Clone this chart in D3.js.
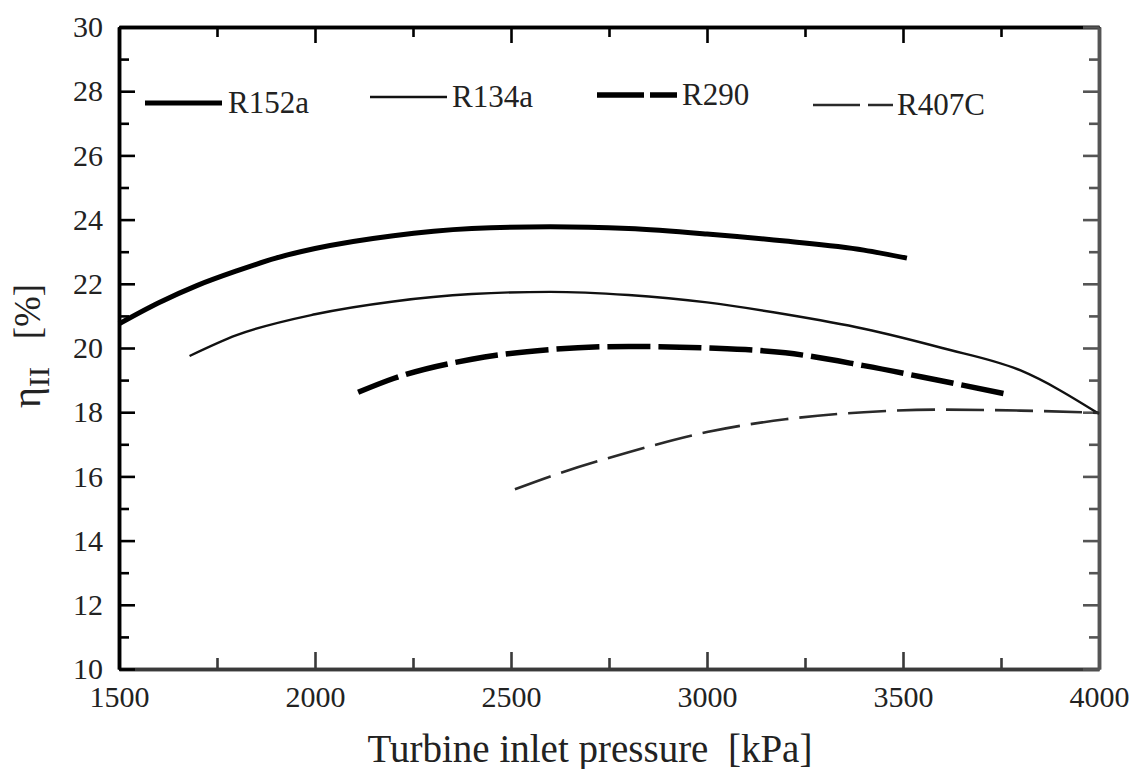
<!DOCTYPE html>
<html>
<head>
<meta charset="utf-8">
<script src="https://cdn.jsdelivr.net/npm/d3@7"></script>
<style>
  html, body { margin: 0; padding: 0; background: #fff; }
  svg { display: block; }
  svg text { font-family: "Liberation Serif", "Times New Roman", Times, serif !important; }
</style>
</head>
<body>
<svg id="chart" width="1134" height="769"></svg>
<script>
// Second-law efficiency vs turbine inlet pressure for four working fluids
const seriesNames = ["R152a", "R134a", "R290", "R407C"];

const pressureR152a = [1500, 1600, 1700, 1800, 1900, 2000, 2200, 2400, 2600, 2800, 3000, 3200, 3400, 3510];
const etaR152a      = [20.75, 21.4, 21.95, 22.4, 22.8, 23.1, 23.5, 23.72, 23.78, 23.72, 23.55, 23.33, 23.05, 22.8];

const pressureR134a = [1680, 1800, 2000, 2200, 2400, 2600, 2800, 3000, 3200, 3400, 3600, 3800, 4000];
const etaR134a      = [19.75, 20.4, 21.05, 21.45, 21.68, 21.75, 21.65, 21.42, 21.05, 20.6, 20.0, 19.3, 17.95];

const pressureR290  = [2110, 2200, 2400, 2600, 2800, 3000, 3200, 3400, 3600, 3770];
const etaR290       = [18.62, 19.05, 19.65, 19.95, 20.05, 20.0, 19.85, 19.45, 18.97, 18.55];

const pressureR407C = [2510, 2600, 2800, 3000, 3200, 3400, 3600, 3800, 4000];
const etaR407C      = [15.6, 16.0, 16.75, 17.38, 17.78, 18.0, 18.08, 18.05, 17.98];

const xMajorTicks = [1500, 2000, 2500, 3000, 3500, 4000];
const xMinorTicks = [1750, 2250, 2750, 3250, 3750];
const yMajorTicks = [10, 12, 14, 16, 18, 20, 22, 24, 26, 28, 30];
const yMinorTicks = [11, 13, 15, 17, 19, 21, 23, 25, 27, 29];

const xTitle = "Turbine inlet pressure  [kPa]";

// ---- layout ----
const plotLeft = 119, plotRight = 1099, plotTop = 27, plotBottom = 669;
const serif = "'Liberation Serif', 'Times New Roman', Times, serif";
const svg = d3.select("#chart");

const x = d3.scaleLinear().domain([1500, 4000]).range([plotLeft, plotRight]);
const y = d3.scaleLinear().domain([10, 30]).range([plotBottom, plotTop]);

// line styles per fluid
const styles = {
  "R152a": { color: "#000", width: 5,   dash: null },
  "R134a": { color: "#111", width: 2.4, dash: null },
  "R290":  { color: "#000", width: 5.5, dash: "43,8" },
  "R407C": { color: "#2a2a2a", width: 2.6, dash: "38,11" }
};

const series = [
  { name: "R152a", p: pressureR152a, eta: etaR152a },
  { name: "R134a", p: pressureR134a, eta: etaR134a },
  { name: "R290",  p: pressureR290,  eta: etaR290 },
  { name: "R407C", p: pressureR407C, eta: etaR407C }
];

// ---- axes ----
function styleAxis(g, color) {
  g.attr("font-family", null);
  g.select(".domain").attr("stroke", color).attr("stroke-width", 3.5);
  g.selectAll(".tick line").attr("stroke", color).attr("stroke-width", 2.6);
  g.selectAll("text")
    .style("font-family", serif)
    .attr("font-size", 30)
    .attr("fill", "#222");
}

// bottom
svg.append("g").attr("transform", `translate(0,${plotBottom})`)
  .call(d3.axisBottom(x).tickValues(xMinorTicks).tickSizeInner(-11).tickSizeOuter(0).tickFormat(""))
  .call(g => styleAxis(g, "#3a3a3a"));
svg.append("g").attr("transform", `translate(0,${plotBottom})`)
  .call(d3.axisBottom(x).tickValues(xMajorTicks).tickSizeInner(-17).tickSizeOuter(0)
        .tickPadding(17).tickFormat(d3.format("d")))
  .call(g => styleAxis(g, "#3a3a3a"));

// top
svg.append("g").attr("transform", `translate(0,${plotTop})`)
  .call(d3.axisTop(x).tickValues(xMinorTicks).tickSizeInner(-10).tickSizeOuter(0).tickFormat(""))
  .call(g => styleAxis(g, "#000"));
svg.append("g").attr("transform", `translate(0,${plotTop})`)
  .call(d3.axisTop(x).tickValues(xMajorTicks).tickSizeInner(-16).tickSizeOuter(0).tickFormat(""))
  .call(g => styleAxis(g, "#000"));

// left
svg.append("g").attr("transform", `translate(${plotLeft},0)`)
  .call(d3.axisLeft(y).tickValues(yMinorTicks).tickSizeInner(-10).tickSizeOuter(0).tickFormat(""))
  .call(g => styleAxis(g, "#000"));
svg.append("g").attr("transform", `translate(${plotLeft},0)`)
  .call(d3.axisLeft(y).tickValues(yMajorTicks).tickSizeInner(-16).tickSizeOuter(0)
        .tickPadding(16).tickFormat(d3.format("d")))
  .call(g => styleAxis(g, "#000"));

// right
svg.append("g").attr("transform", `translate(${plotRight},0)`)
  .call(d3.axisRight(y).tickValues(yMinorTicks).tickSizeInner(-10).tickSizeOuter(0).tickFormat(""))
  .call(g => styleAxis(g, "#555"));
svg.append("g").attr("transform", `translate(${plotRight},0)`)
  .call(d3.axisRight(y).tickValues(yMajorTicks).tickSizeInner(-16).tickSizeOuter(0).tickFormat(""))
  .call(g => styleAxis(g, "#555"));

// ---- curves ----
const line = d3.line()
  .x(d => x(d[0]))
  .y(d => y(d[1]))
  .curve(d3.curveMonotoneX);

series.forEach(s => {
  const st = styles[s.name];
  svg.append("path")
    .datum(s.p.map((p, i) => [p, s.eta[i]]))
    .attr("d", line)
    .attr("fill", "none")
    .attr("stroke", st.color)
    .attr("stroke-width", st.width)
    .attr("stroke-dasharray", st.dash)
    .attr("stroke-linecap", "butt")
    .attr("stroke-linejoin", "round");
});

// ---- legend ----
const legendLayout = [
  { x0: 145, x1: 222, ly: 103, tx: 228, ty: 113 },
  { x0: 370, x1: 447, ly: 97,  tx: 452, ty: 107 },
  { x0: 597, x1: 677, ly: 95,  tx: 682, ty: 105 },
  { x0: 813, x1: 893, ly: 105, tx: 897, ty: 115 }
];
seriesNames.forEach((name, i) => {
  const L = legendLayout[i], st = styles[name];
  svg.append("line")
    .attr("x1", L.x0).attr("x2", L.x1).attr("y1", L.ly).attr("y2", L.ly)
    .attr("stroke", st.color)
    .attr("stroke-width", st.width)
    .attr("stroke-dasharray", name === "R290" ? "47,6" : (name === "R407C" ? "47,8" : null));
  svg.append("text")
    .attr("x", L.tx).attr("y", L.ty)
    .style("font-family", serif)
    .attr("font-size", 31)
    .attr("fill", "#222")
    .text(name);
});

// ---- axis titles ----
svg.append("text")
  .attr("x", 590).attr("y", 762)
  .attr("text-anchor", "middle")
  .style("font-family", serif)
  .attr("font-size", 39)
  .attr("fill", "#222")
  .style("white-space", "pre")
  .text(xTitle);

const yt = svg.append("text")
  .attr("transform", "translate(40,408) rotate(-90)")
  .style("font-family", serif)
  .attr("fill", "#222")
  .style("white-space", "pre");
yt.append("tspan").attr("font-size", 40).text("η");
yt.append("tspan").attr("font-size", 30).attr("dy", 9).text("II");
yt.append("tspan").attr("font-size", 37).attr("dy", -9).text("   [%]");
</script>
</body>
</html>
